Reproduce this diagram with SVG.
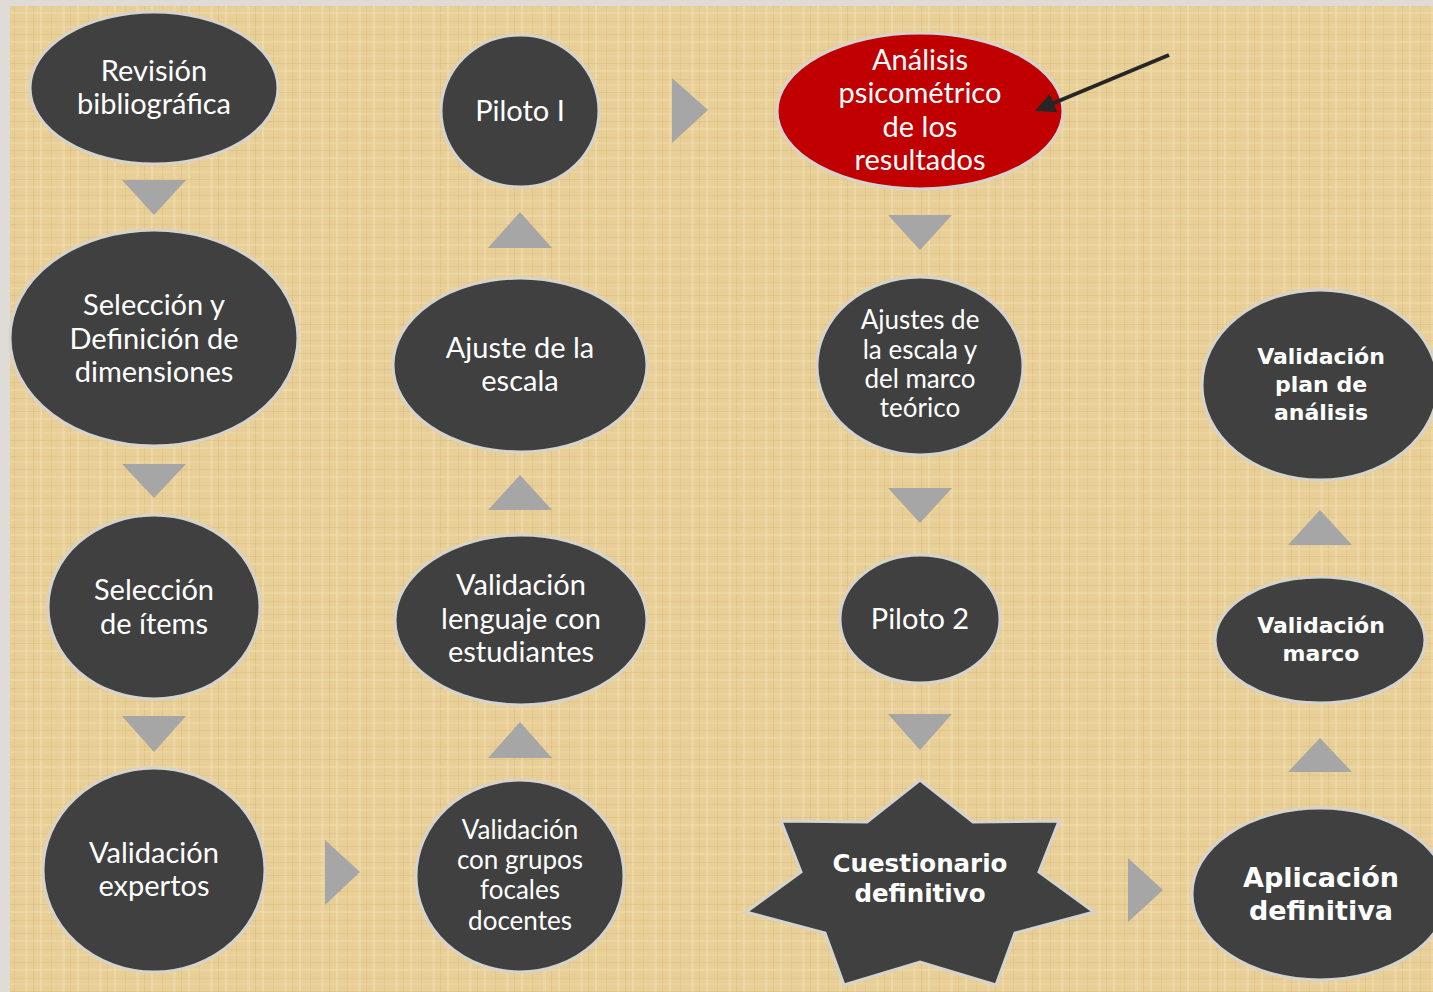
<svg xmlns="http://www.w3.org/2000/svg" width="1433" height="992" viewBox="0 0 1433 992">
<defs>
<pattern id="pap" width="37" height="29" patternUnits="userSpaceOnUse">
<rect width="37" height="29" fill="#e8cf98"/>
<rect x="3" width="2" height="29" fill="#f4e3b9" opacity="0.45"/>
<rect x="14" width="1" height="29" fill="#d4b777" opacity="0.35"/>
<rect x="25" width="3" height="29" fill="#f2dfb2" opacity="0.4"/>
<rect x="33" width="1" height="29" fill="#cfae6c" opacity="0.3"/>
<rect y="5" width="37" height="1" fill="#d2b372" opacity="0.3"/>
<rect y="12" width="37" height="2" fill="#f3e1b6" opacity="0.4"/>
<rect y="21" width="37" height="1" fill="#d4b674" opacity="0.3"/>
<rect y="26" width="37" height="2" fill="#f0ddad" opacity="0.35"/>
</pattern>
<marker id="ah" viewBox="0 0 10 10" refX="9" refY="5" markerWidth="5" markerHeight="5" orient="auto">
<path d="M0,0 L10,5 L0,10 Z" fill="#262626"/>
</marker>
</defs>
<style>
.n{fill:#404040;stroke:#d6d3cd;stroke-width:3}
.r{fill:#c00000;stroke:#d6d3cd;stroke-width:3}
.a{fill:#a6a6a6}
.t{fill:#ffffff;font-family:Lato,"Open Sans",sans-serif;font-size:29px;text-anchor:middle}
.s{font-size:26px}
.b{fill:#ffffff;font-family:"DejaVu Sans",sans-serif;font-weight:bold;text-anchor:middle}
</style>
<rect width="1433" height="992" fill="#dfdcd7"/>
<rect x="10" y="6" width="1423" height="986" fill="url(#pap)"/>

<g id="n1"><ellipse class="n" cx="154" cy="88" rx="124" ry="76"/>
<text class="t" x="154" y="81">Revisión</text><text class="t" x="154" y="114">bibliográfica</text></g>

<g id="n2"><ellipse class="n" cx="154" cy="338" rx="144" ry="108"/>
<text class="t" x="154" y="315">Selección y</text><text class="t" x="154" y="349">Definición de</text><text class="t" x="154" y="382">dimensiones</text></g>

<g id="n3"><ellipse class="n" cx="154" cy="607" rx="106" ry="92"/>
<text class="t" x="154" y="600">Selección</text><text class="t" x="154" y="634">de ítems</text></g>

<g id="n4"><ellipse class="n" cx="154" cy="870" rx="111" ry="102"/>
<text class="t" x="154" y="863">Validación</text><text class="t" x="154" y="896">expertos</text></g>

<g id="n5"><ellipse class="n" cx="520" cy="111" rx="79" ry="76"/>
<text class="t" x="520" y="121">Piloto I</text></g>

<g id="n6"><ellipse class="n" cx="520" cy="365" rx="127" ry="87"/>
<text class="t" x="520" y="358">Ajuste de la</text><text class="t" x="520" y="391">escala</text></g>

<g id="n7"><ellipse class="n" cx="521" cy="620" rx="126" ry="85"/>
<text class="t" x="521" y="595">Validación</text><text class="t" x="521" y="629">lenguaje con</text><text class="t" x="521" y="662">estudiantes</text></g>

<g id="n8"><ellipse class="n" cx="520" cy="876" rx="104" ry="96"/>
<text class="t s" x="520" y="839">Validación</text><text class="t s" x="520" y="869">con grupos</text><text class="t s" x="520" y="899">focales</text><text class="t s" x="520" y="930">docentes</text></g>

<g id="n9"><ellipse class="r" cx="920" cy="111" rx="143" ry="78"/>
<text class="t" x="920" y="70">Análisis</text><text class="t" x="920" y="103">psicométrico</text><text class="t" x="920" y="137">de los</text><text class="t" x="920" y="170">resultados</text></g>

<g id="n10"><ellipse class="n" cx="920" cy="366" rx="103" ry="89"/>
<text class="t s" x="920" y="329">Ajustes de</text><text class="t s" x="920" y="359">la escala y</text><text class="t s" x="920" y="388">del marco</text><text class="t s" x="920" y="417">teórico</text></g>

<g id="n11"><ellipse class="n" cx="920" cy="619" rx="80" ry="64"/>
<text class="t" x="920" y="629">Piloto 2</text></g>

<g id="n12"><polygon class="n" points="920,780 973,822 1059,821 1039,872 1094,912 1015,933 996,985 920,962 844,985 825,933 746,912 801,872 781,821 867,822"/>
<text class="b" x="920" y="872" font-size="24.5">Cuestionario</text><text class="b" x="920" y="902" font-size="24.5">definitivo</text></g>

<g id="n13"><ellipse class="n" cx="1320" cy="385" rx="118" ry="95"/>
<text class="b" x="1321" y="364" font-size="22">Validación</text><text class="b" x="1321" y="392" font-size="22">plan de</text><text class="b" x="1321" y="420" font-size="22">análisis</text></g>

<g id="n14"><ellipse class="n" cx="1320" cy="640" rx="105" ry="63"/>
<text class="b" x="1321" y="633" font-size="22">Validación</text><text class="b" x="1321" y="661" font-size="22">marco</text></g>

<g id="n15"><ellipse class="n" cx="1320" cy="894" rx="128" ry="86"/>
<text class="b" x="1321" y="887" font-size="27">Aplicación</text><text class="b" x="1321" y="920" font-size="27">definitiva</text></g>

<g id="connectors">
<polygon class="a" points="122,180 186,180 154,215"/>
<polygon class="a" points="122,464 186,464 154,498"/>
<polygon class="a" points="122,716 186,716 154,752"/>
<polygon class="a" points="325,840 325,905 360,872"/>
<polygon class="a" points="488,758 552,758 520,722"/>
<polygon class="a" points="488,510 552,510 520,475"/>
<polygon class="a" points="488,248 552,248 520,212"/>
<polygon class="a" points="672,78 672,143 708,110"/>
<polygon class="a" points="888,215 952,215 920,250"/>
<polygon class="a" points="888,488 952,488 920,523"/>
<polygon class="a" points="888,714 952,714 920,750"/>
<polygon class="a" points="1128,858 1128,922 1163,890"/>
<polygon class="a" points="1288,772 1352,772 1320,738"/>
<polygon class="a" points="1288,545 1352,545 1320,510"/>
<line x1="1169" y1="55" x2="1037" y2="110" stroke="#262626" stroke-width="4" marker-end="url(#ah)"/>
</g>
</svg>
